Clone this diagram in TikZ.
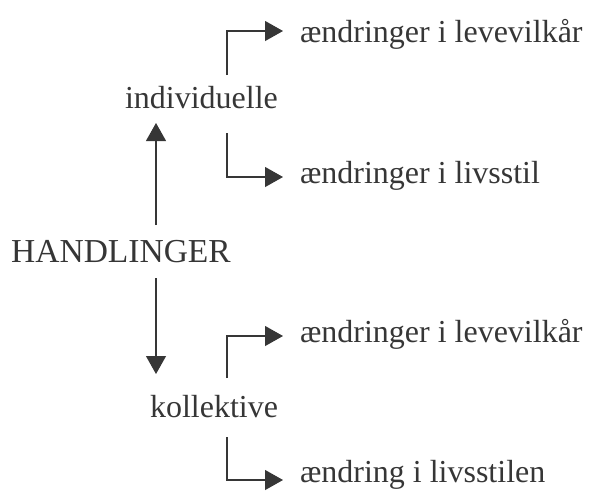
\documentclass[tikz,border=0pt]{standalone}
\usepackage{fontspec}
\setmainfont{Liberation Serif}
\usetikzlibrary{arrows.meta,calc}
\definecolor{ink}{HTML}{363636}
\begin{document}
\begin{tikzpicture}[x=1pt,y=-1pt,
  label/.style={inner sep=0pt,outer sep=0pt,text=ink,
    font=\fontsize{32}{38}\selectfont},
  link/.style={draw=ink,line width=1.1pt,
    -{Triangle[length=18pt,width=20pt]}}]
\useasboundingbox (0,0) rectangle (591,491);
% main stem and the two kinds of actions
\node[label,anchor=base,font=\fontsize{33.5}{40}\selectfont] (h) at (121,262) {HANDLINGER};
\node[label,anchor=base west] (ind) at (125,108) {individuelle};
\node[label,anchor=base west] (kol) at (150,417) {kollektive};
% outcomes
\node[label,anchor=base west] (t1) at (300,42) {ændringer i levevilkår};
\node[label,anchor=base west] (t2) at (300,183) {ændringer i livsstil};
\node[label,anchor=base west] (t3) at (300,342) {ændringer i levevilkår};
\node[label,anchor=base west] (t4) at (300,482) {ændring i livsstilen};
% columns of the vertical strokes
\coordinate (stem) at (156,0);
\coordinate (fork) at (227,0);
% from HANDLINGER up and down
\draw[link] ($(h.base -| stem)+(0,-37)$) -- ($(ind.base -| stem)+(0,15)$);
\draw[link] ($(h.base -| stem)+(0,16)$) -- ($(kol.base -| stem)+(0,-43)$);
% branches to the outcomes
\draw[link] ($(ind.base -| fork)+(0,-33)$) |- ($(t1.base west)+(-17,-11)$);
\draw[link] ($(ind.base -| fork)+(0,25)$) |- ($(t2.base west)+(-17,-6)$);
\draw[link] ($(kol.base -| fork)+(0,-39)$) |- ($(t3.base west)+(-17,-6)$);
\draw[link] ($(kol.base -| fork)+(0,20)$) |- ($(t4.base west)+(-17,-2)$);
\end{tikzpicture}
\end{document}
